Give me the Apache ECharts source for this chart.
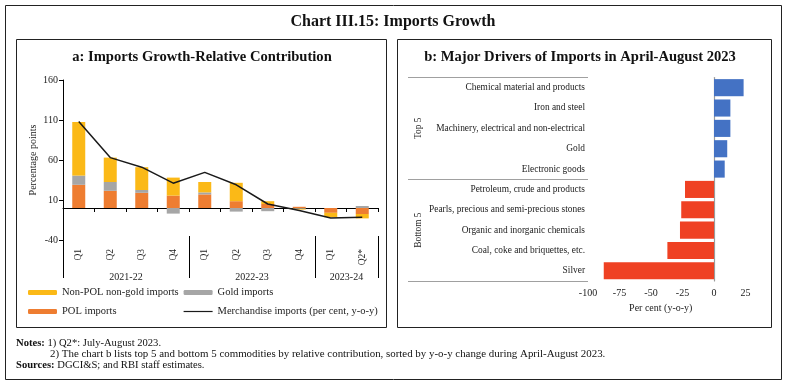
<!DOCTYPE html>
<html>
<head>
<meta charset="utf-8">
<script src="https://cdn.jsdelivr.net/npm/echarts@6/dist/echarts.min.js"></script>
<style>
html,body{margin:0;padding:0;background:#fff;}
#c{width:787px;height:385px;}
</style>
</head>
<body>
<div id="c"></div>
<script>
// ---- Panel a data ----
var quarters = ['Q1','Q2','Q3','Q4','Q1','Q2','Q3','Q4','Q1','Q2*'];
var years = ['2021-22','2022-23','2023-24'];
var yearSizes = [4,4,2];
var polImports = [29, 21.5, 19, 15.5, 17, 8.5, 5, 1.5, -6, -7.5];
var goldImports = [11.5, 11, 3.5, -7, 2.5, -4.5, -4, -1, 0, 2.5];
var nonPolImports = [67, 30.5, 28.5, 22.5, 13, 23, 3.5, -1, -5.5, -5.5];
var merchImports = [108, 63, 51, 31, 44.5, 29, 5, -3, -12.5, -11.5];
var yTicks = [-40, 160, 50]; // min, max, interval

// ---- Panel b data ----
var drivers = ['Chemical material and products','Iron and steel','Machinery, electrical and non-electrical','Gold','Electronic goods','Petroleum, crude and products','Pearls, precious and semi-precious stones','Organic and inorganic chemicals','Coal, coke and briquettes, etc.','Silver'];
var driverValues = [23.5, 13, 13, 10.5, 8.5, -23, -26, -27, -37, -87.5];
var driverGroups = ['Top 5','Bottom 5'];
var driverGroupSizes = [5,5];
var xTicksB = [-100, 25, 25];

// derived group boundaries / centres
function groupInfo(sizes){
  var b=[0], c=[], s=0;
  sizes.forEach(function(n){ c.push(s+n/2); s+=n; b.push(s); });
  return {bounds:b, centers:c, total:s};
}
var gA = groupInfo(yearSizes);
var gB = groupInfo(driverGroupSizes);

var FONT = '"Liberation Serif", "DejaVu Serif", serif';
var C_NONPOL = '#FBB917', C_POL = '#EE7D31', C_GOLD = '#A6A6A6';
var C_BLUE = '#4472C4', C_RED = '#EF4123';

var chart = echarts.init(document.getElementById('c'), null, {renderer:'canvas'});

function labelFor(centers, names){
  return function(v){
    for (var i=0;i<centers.length;i++){ if (Math.abs(centers[i]-v)<1e-6) return names[i]; }
    return '';
  };
}

var option = {
  backgroundColor:'#fff',
  animation:false,
  textStyle:{fontFamily:FONT},
  grid:[
    {left:63, top:80, width:315, height:160},
    {left:588, top:77.5, width:157.5, height:203.5}
  ],
  legend:[
    {data:['Non-POL non-gold imports','POL imports'], left:28, top:287, padding:0, orient:'vertical', itemGap:8,
     itemWidth:29, itemHeight:5, textStyle:{fontFamily:FONT,fontSize:10.5,color:'#222'}},
    {data:['Gold imports',{name:'Merchandise imports (per cent, y-o-y)', itemStyle:{opacity:0}, lineStyle:{width:1.2}}],
     left:183, top:287, padding:0, orient:'vertical', itemGap:8,
     itemWidth:29, itemHeight:5, textStyle:{fontFamily:FONT,fontSize:10.5,color:'#222'}}
  ],
  xAxis:[
    {type:'category', gridIndex:0, data:quarters,
     axisLine:{onZero:true, lineStyle:{color:'#000', width:1}},
     axisTick:{show:true, length:4, lineStyle:{color:'#000'}},
     axisLabel:{show:false}},
    {type:'category', gridIndex:0, data:quarters, position:'bottom',
     axisLine:{show:false, onZero:false}, axisTick:{show:false},
     axisLabel:{rotate:90, margin:9, fontSize:9.5, color:'#222', fontFamily:FONT}},
    {type:'value', gridIndex:0, min:0, max:gA.total, position:'bottom', offset:-4,
     splitLine:{show:false},
     axisLine:{show:false, onZero:false},
     axisTick:{show:true, customValues:gA.bounds, length:42, lineStyle:{color:'#000'}},
     axisLabel:{customValues:gA.centers, formatter:labelFor(gA.centers, years), margin:36,
                fontSize:10, color:'#222', fontFamily:FONT}},
    {type:'value', gridIndex:1, min:xTicksB[0], max:xTicksB[1], interval:xTicksB[2],
     axisLine:{show:false, onZero:false}, axisTick:{show:false}, splitLine:{show:false},
     axisLabel:{fontSize:10, color:'#222', margin:7, fontFamily:FONT},
     name:'Per cent (y-o-y)', nameLocation:'middle', nameGap:21,
     nameTextStyle:{fontSize:10, color:'#222', fontFamily:FONT, padding:[0,12,0,0]}}
  ],
  yAxis:[
    {type:'value', gridIndex:0, min:yTicks[0], max:yTicks[1], interval:yTicks[2],
     axisLine:{show:true, onZero:false, lineStyle:{color:'#000'}},
     axisTick:{show:true, length:4, lineStyle:{color:'#000'}},
     splitLine:{show:false},
     axisLabel:{fontSize:10, color:'#222', margin:5, fontFamily:FONT},
     name:'Percentage points', nameLocation:'middle', nameGap:25,
     nameTextStyle:{fontSize:10, color:'#222', fontFamily:FONT}},
    {type:'category', gridIndex:1, data:drivers, inverse:true,
     axisLine:{show:true, onZero:true, lineStyle:{color:'#9a9a9a', width:1.2}},
     axisTick:{show:false}, axisLabel:{show:false}},
    {type:'category', gridIndex:1, data:drivers, inverse:true, position:'left',
     axisLine:{show:false, onZero:false}, axisTick:{show:false},
     axisLabel:{margin:3, fontSize:9.4, color:'#222', fontFamily:FONT}},
    {type:'value', gridIndex:1, min:0, max:gB.total, inverse:true, position:'left',
     splitLine:{show:false},
     axisLine:{show:false, onZero:false},
     axisTick:{show:true, customValues:gB.bounds, length:180, lineStyle:{color:'#a0a0a0'}},
     axisLabel:{customValues:gB.centers, formatter:labelFor(gB.centers, driverGroups), rotate:90, margin:165,
                fontSize:9.4, color:'#222', fontFamily:FONT}}
  ],
  series:[
    {name:'POL imports', type:'bar', xAxisIndex:0, yAxisIndex:0, stack:'a', barWidth:13,
     itemStyle:{color:C_POL}, data:polImports},
    {name:'Gold imports', type:'bar', xAxisIndex:0, yAxisIndex:0, stack:'a', barWidth:13,
     itemStyle:{color:C_GOLD}, data:goldImports},
    {name:'Non-POL non-gold imports', type:'bar', xAxisIndex:0, yAxisIndex:0, stack:'a', barWidth:13,
     itemStyle:{color:C_NONPOL}, data:nonPolImports},
    {name:'Merchandise imports (per cent, y-o-y)', type:'line', xAxisIndex:0, yAxisIndex:0,
     symbol:'none', lineStyle:{color:'#1a1a1a', width:1.5}, itemStyle:{color:'#1a1a1a'}, data:merchImports, z:5},
    {name:'drivers', type:'bar', xAxisIndex:3, yAxisIndex:1, barCategoryGap:'16%',
     itemStyle:{color:function(p){ return p.value>=0 ? C_BLUE : C_RED; }}, data:driverValues}
  ],
  graphic:[
    {type:'rect', shape:{x:5.5, y:5.5, width:776, height:374}, style:{fill:'none', stroke:'#222', lineWidth:1}},
    {type:'rect', shape:{x:16.5, y:39.5, width:370, height:288}, style:{fill:'none', stroke:'#222', lineWidth:1}},
    {type:'rect', shape:{x:397.5, y:39.5, width:374, height:288}, style:{fill:'none', stroke:'#222', lineWidth:1}},
    {type:'text', x:393, y:22, style:{text:'Chart III.15: Imports Growth', font:'bold 16px '+FONT, fill:'#111', textAlign:'center', textVerticalAlign:'middle'}},
    {type:'text', x:202, y:57, style:{text:'a: Imports Growth-Relative Contribution', font:'bold 14.6px '+FONT, fill:'#111', textAlign:'center', textVerticalAlign:'middle'}},
    {type:'text', x:580, y:57, style:{text:'b: Major Drivers of Imports in April-August 2023', font:'bold 14.6px '+FONT, fill:'#111', textAlign:'center', textVerticalAlign:'middle'}},
    {type:'text', x:16, y:343, style:{text:'{b|Notes:} 1) Q2*: July-August 2023.', rich:{b:{fontWeight:'bold', fontSize:10.6, fontFamily:FONT, fill:'#111'}}, font:'10.6px '+FONT, fill:'#111', textVerticalAlign:'middle'}},
    {type:'text', x:50, y:354, style:{text:'2) The chart b lists top 5 and bottom 5 commodities by relative contribution, sorted by y-o-y change during April-August 2023.', font:'10.9px '+FONT, fill:'#111', textVerticalAlign:'middle'}},
    {type:'text', x:16, y:365, style:{text:'{b|Sources:} DGCI&S; and RBI staff estimates.', rich:{b:{fontWeight:'bold', fontSize:10.6, fontFamily:FONT, fill:'#111'}}, font:'10.6px '+FONT, fill:'#111', textVerticalAlign:'middle'}}
  ]
};
chart.setOption(option);
</script>
</body>
</html>
